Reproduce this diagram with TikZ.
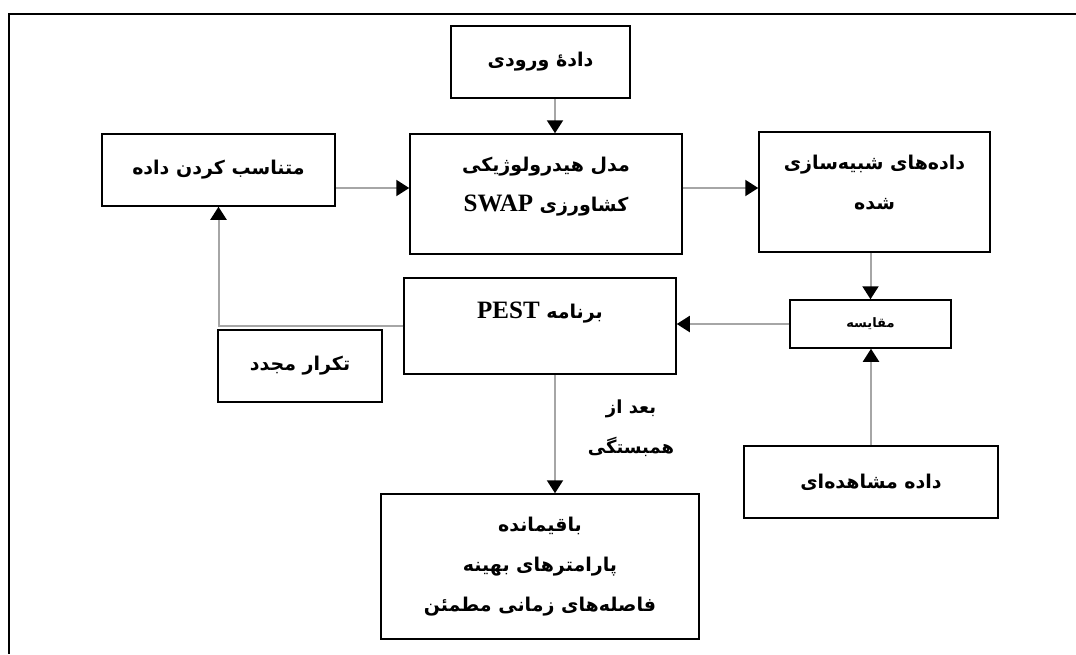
\documentclass[tikz,border=0pt]{standalone}
\usepackage{fontspec}
\newfontfamily\farsi[Script=Arabic]{DejaVu Sans}
\newfontfamily\latinf{Liberation Serif}
\TeXXeTstate=1
\usetikzlibrary{arrows.meta}
\newcommand\fa[1]{{\farsi\bfseries\beginR#1\endR}}
\newcommand\la[1]{\beginL{\latinf\bfseries\fontsize{25}{40}\selectfont #1}\endL}

\tikzset{
  box/.style={rectangle, draw, line width=1.5pt, align=center, inner sep=0pt,
    font=\fontsize{19}{40}\selectfont},
  arr/.style={draw=gray!70, line width=2pt,
    -{Triangle[width=16pt,length=13pt,color=black]}}
}

\begin{document}
\begin{tikzpicture}[x=1pt, y=-1pt]
			\useasboundingbox (0,0) rectangle (1076,654);
			% Outer frame
			\draw[line width=1.5pt] (1076,14) -- (9,14) -- (9,654);
			
			% Define boxes
			\node[box, minimum width=179pt, minimum height=72pt] (input) at (540.5,62) {\fa{دادهٔ ورودی}};
			\node[box, minimum width=272pt, minimum height=120pt, text depth=20pt] (model) at (546,194) {\fa{مدل هیدرولوژیکی}\\ \fa{کشاورزی \la{SWAP}}};
			\node[box, minimum width=233pt, minimum height=72pt] (fit) at (218.5,170) {\fa{متناسب کردن داده}};
			\node[box, minimum width=231pt, minimum height=120pt, text depth=20pt] (sim) at (874.5,192) {\fa{داده‌های شبیه‌سازی}\\ \fa{شده}};
			\node[box, minimum width=161pt, minimum height=48pt, font=\fontsize{13}{20}\selectfont] (cmp) at (870.5,324) {\fa{مقایسه}};
			\node[box, minimum width=272pt, minimum height=96pt, text depth=32pt] (pest) at (540,326) {\fa{برنامه \la{PEST}}};
			\node[box, minimum width=164pt, minimum height=72pt] (again) at (300,366) {\fa{تکرار مجدد}};
			\node[box, minimum width=254pt, minimum height=72pt] (obs) at (871,482) {\fa{داده مشاهده‌ای}};
			\node[box, minimum width=318pt, minimum height=145pt] (result) at (540,566.5) {\fa{باقیمانده}\\ \fa{پارامترهای بهینه}\\ \fa{فاصله‌های زمانی مطمئن}};
			\node[align=center, inner sep=0pt, font=\fontsize{18}{40}\selectfont] (after) at (631,428) {\fa{بعد از}\\ \fa{همبستگی}};
			
			% Connectors
			\draw[arr] ([xshift=14.5pt]input.south) -- ([xshift=14.5pt]input.south |- model.north);
			\draw[arr] ([yshift=-18pt]fit.east) -- ([yshift=-18pt]fit.east -| model.west);
			\draw[arr] ([yshift=6pt]model.east) -- ([yshift=6pt]model.east -| sim.west);
			\draw[arr] (cmp.north |- sim.south) -- (cmp.north);
			\draw[arr] (obs.north) -- (obs.north |- cmp.south);
			\draw[arr] (cmp.west) -- (cmp.west -| pest.east);
			\draw[arr] (pest.west) -| (fit.south);
			\draw[arr] ([xshift=15pt]pest.south) -- ([xshift=15pt]pest.south |- result.north);
			
		\end{tikzpicture}
\end{document}
